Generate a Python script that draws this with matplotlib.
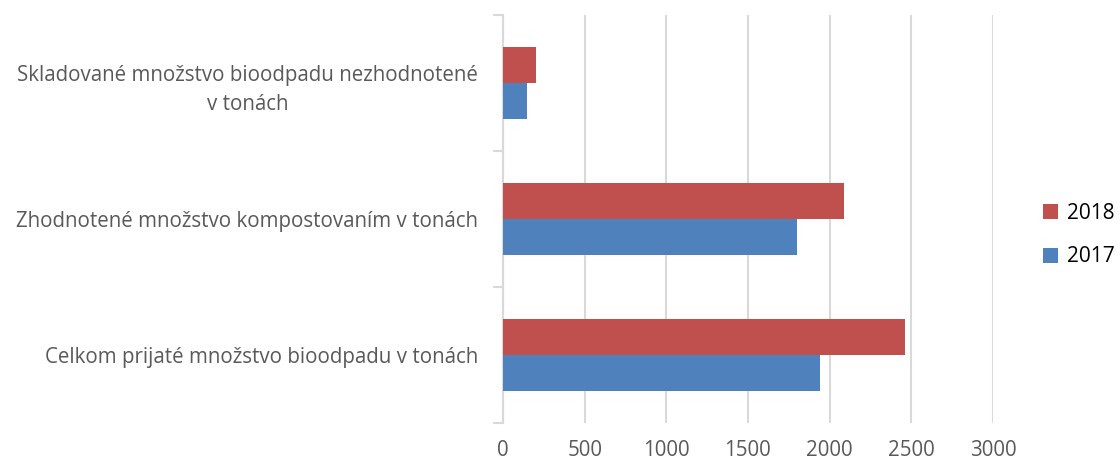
import matplotlib
matplotlib.use("Agg")
import matplotlib.pyplot as plt
import numpy as np
from matplotlib.ticker import FixedLocator

categories = [
    "Celkom prijaté množstvo bioodpadu v tonách",
    "Zhodnotené množstvo kompostovaním v tonách",
    "Skladované množstvo bioodpadu nezhodnotené\nv tonách",
]
series_names = ["2018", "2017"]
values_2018 = [2461, 2088, 200]
values_2017 = [1938, 1797, 145]
xticks = [0, 500, 1000, 1500, 2000, 2500, 3000]

red = "#C0504D"
blue = "#4F81BD"
grid_c = "#D9D9D9"
text_c = "#595959"

plt.rcParams['font.family'] = ['Open Sans', 'DejaVu Sans']

fig = plt.figure(figsize=(11.2, 4.61), dpi=100)
ax = fig.add_axes([503/1120, 1 - 423/461, (993 - 503)/1120, (423 - 15)/461])

y = np.arange(len(categories))
h = 0.265
ax.barh(y + h/2, values_2018, height=h, color=red, label=series_names[0], zorder=3)
ax.barh(y - h/2, values_2017, height=h, color=blue, label=series_names[1], zorder=3)

ax.set_xlim(0, 3000)
ax.set_ylim(-0.5, len(categories) - 0.5)
ax.set_xticks(xticks)
ax.set_xticklabels([str(t) for t in xticks])
ax.xaxis.grid(True, color=grid_c, linewidth=1.5, zorder=0)
ax.tick_params(axis='x', length=0, pad=12, labelsize=14.8, labelcolor=text_c)

ax.set_yticks(y)
ax.set_yticklabels(categories, multialignment='center', linespacing=1.55)
ax.yaxis.set_minor_locator(FixedLocator(np.arange(-0.5, len(categories), 1.0)))
ax.tick_params(axis='y', which='major', length=0, pad=18, labelsize=14.8, labelcolor=text_c)
ax.tick_params(axis='y', which='minor', length=7, width=1.5, color=grid_c)

for s in ['top', 'right', 'bottom']:
    ax.spines[s].set_visible(False)
ax.spines['left'].set_color(grid_c)
ax.spines['left'].set_linewidth(1.5)

handles, labels = ax.get_legend_handles_labels()
leg = fig.legend(handles, labels, loc='center left', bbox_to_anchor=(1024/1120, 1 - 235/461),
                 frameon=False, fontsize=15, handlelength=0.75, handleheight=0.75,
                 handletextpad=0.4, labelspacing=1.1)

fig.savefig("out.png", dpi=100)
